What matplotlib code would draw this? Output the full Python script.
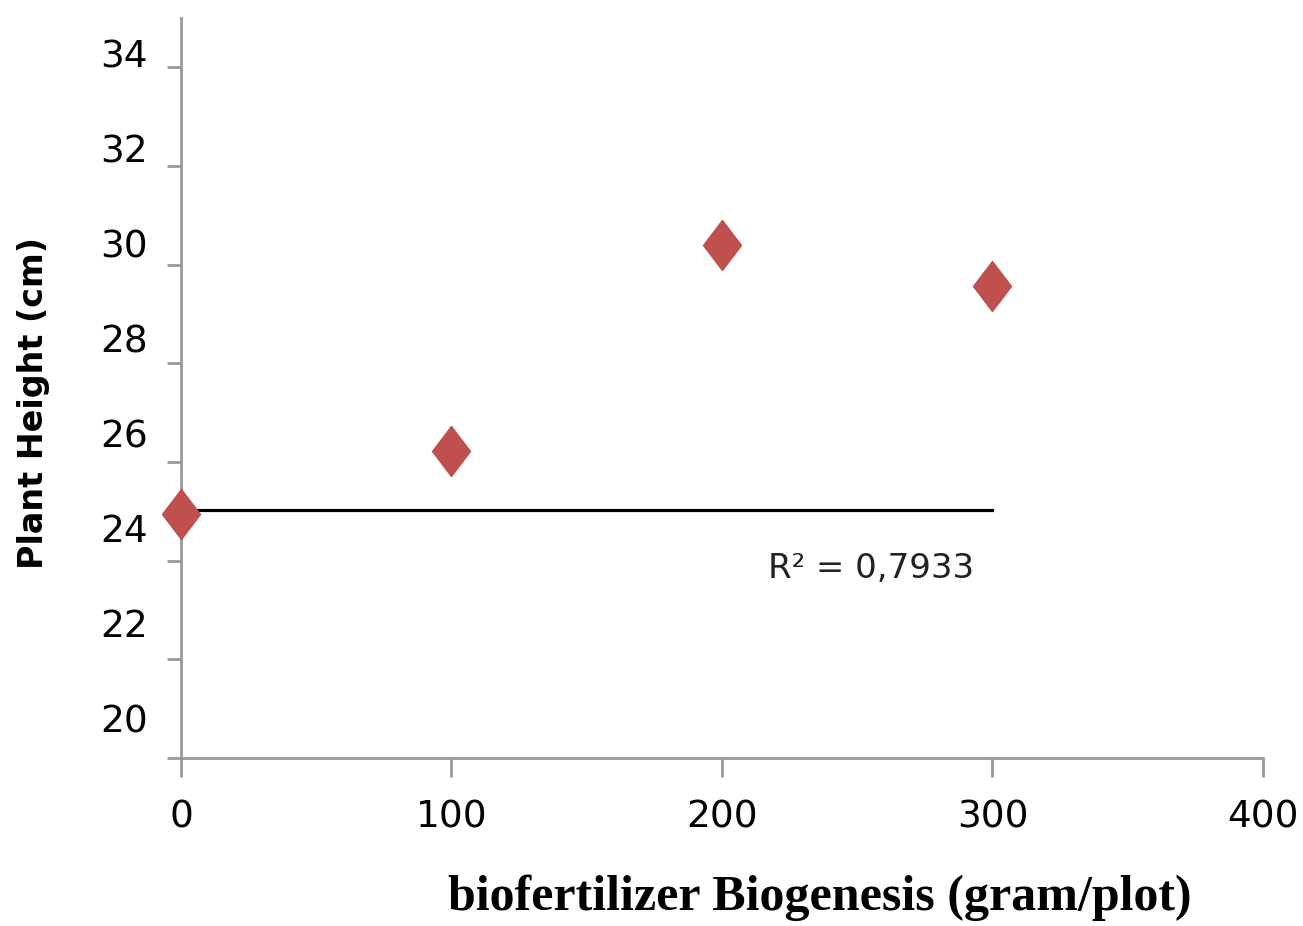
import matplotlib
matplotlib.use("Agg")
import matplotlib.pyplot as plt
import matplotlib.transforms as mtransforms
from matplotlib.path import Path

# data
dose = [0, 100, 200, 300]
height = [24.95, 26.22, 30.40, 29.56]
trend_x = [0, 300]
trend_y = [25.03, 25.03]
r2_text = "R\u00b2 = 0,7933"

xticks = [0, 100, 200, 300, 400]
yticks = [20, 22, 24, 26, 28, 30, 32, 34]

fig = plt.figure(figsize=(13.03, 9.26), dpi=100)
ax = fig.add_axes([0.1389, 0.1814, 0.8304, 0.7992])

diamond = Path([(0, 1), (0.76, 0), (0, -1), (-0.76, 0), (0, 1)],
               [Path.MOVETO, Path.LINETO, Path.LINETO, Path.LINETO, Path.CLOSEPOLY])
ax.plot(dose, height, linestyle="none", marker=diamond, markersize=36,
        color="#C0504D", zorder=3, clip_on=False)
ax.plot(trend_x, trend_y, color="black", lw=2.3, zorder=2)
ax.text(217, 23.84, r2_text, fontsize=24.5, va="center", ha="left",
        family="DejaVu Sans", color="#222222")

ax.set_xlim(0, 400)
ax.set_ylim(20, 35)
ax.set_xticks(xticks)
ax.set_yticks(yticks)

for s in ["top", "right"]:
    ax.spines[s].set_visible(False)
for s in ["left", "bottom"]:
    ax.spines[s].set_color("#999999")
    ax.spines[s].set_linewidth(2)

ax.tick_params(axis="y", direction="out", length=10, width=2, color="#999999",
               labelsize=27, pad=14)
ax.tick_params(axis="x", direction="out", length=14, width=2, color="#999999",
               labelsize=27, pad=16)

# excel put the y labels a bit above their ticks
for i, lab in enumerate(ax.get_yticklabels()):
    up = (40 - 26 * i / 7) / 100.0
    lab.set_transform(lab.get_transform() +
                      mtransforms.ScaledTranslation(0, up, fig.dpi_scale_trans))

ax.set_ylabel("Plant Height (cm)", fontsize=24, fontweight="bold")
ax.yaxis.set_label_coords(-0.121, 0.48)
fig.text(0.629, 0.03, "biofertilizer Biogenesis (gram/plot)", ha="center",
         va="center", fontsize=36, fontweight="bold", family="Liberation Serif")

fig.savefig("out.png", dpi=100)
